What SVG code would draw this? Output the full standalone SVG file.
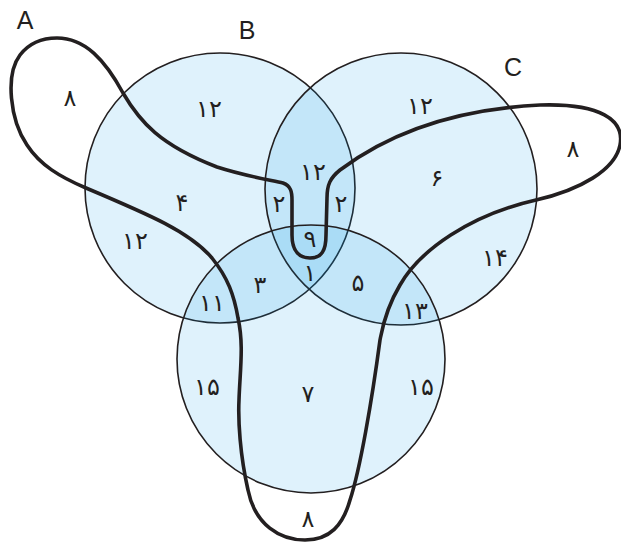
<svg xmlns="http://www.w3.org/2000/svg" width="621" height="544" viewBox="0 0 621 544">
<style>
.set{fill:rgb(0,148,230);fill-opacity:0.125;stroke:#231f20;stroke-width:1.6}
.curve{fill:none;stroke:#231f20;stroke-width:3.6;stroke-linejoin:round}
.num{font-family:"DejaVu Sans","Noto Sans",sans-serif;font-size:24px;fill:#231f20;text-anchor:middle}
.lbl{font-family:"Liberation Sans","Open Sans",sans-serif;font-size:25px;fill:#231f20;text-anchor:middle}
</style>
<rect width="621" height="544" fill="#ffffff"/>
<g id="B"><circle class="set" cx="220" cy="188" r="135"/><text class="lbl" x="247" y="39">B</text></g>
<g id="C"><circle class="set" cx="401" cy="189" r="136"/><text class="lbl" x="513" y="76">C</text></g>
<g id="D"><circle class="set" cx="311" cy="359" r="134"/></g>
<g id="connectors">
<path id="A-curve" class="curve" d="M57,38 C85,38 105,60 123,93 C140,122 160,145 217,167 C245,176 270,180 283,183 C291,186 292,192 292,200 L292,235 C292,252 300,258 310,258 C322,258 326,250 326,235 L327,198 C327,185 330,178 340,170 C380,140 440,110 540,105 C600,103 625,120 620,145 C615,170 580,190 536,200 C470,215 420,250 400,285 C385,310 382,330 380,340 C372,400 360,470 350,500 C343,525 330,540 305,540 C280,540 255,525 248,490 C240,455 238,420 239,400 C240,370 244,345 238,318 C234,295 228,278 212,258 C190,232 150,215 86,188 C60,177 40,165 27,145 C10,120 5,75 20,55 C30,42 45,38 57,38 Z"/>
</g>
<g id="A"><text class="lbl" x="25" y="29">A</text></g>
<g id="numbers">
<text class="num" x="70" y="106">۸</text>
<text class="num" x="209" y="117">۱۲</text>
<text class="num" x="182" y="211">۴</text>
<text class="num" x="135" y="249">۱۲</text>
<text class="num" x="279" y="212">۲</text>
<text class="num" x="313" y="180">۱۲</text>
<text class="num" x="341" y="212">۲</text>
<text class="num" x="310" y="247">۹</text>
<text class="num" x="310" y="281">۱</text>
<text class="num" x="260" y="293">۳</text>
<text class="num" x="358" y="291">۵</text>
<text class="num" x="212" y="311">۱۱</text>
<text class="num" x="415" y="319">۱۳</text>
<text class="num" x="207" y="395">۱۵</text>
<text class="num" x="308" y="402">۷</text>
<text class="num" x="421" y="395">۱۵</text>
<text class="num" x="308" y="527">۸</text>
<text class="num" x="420" y="114">۱۲</text>
<text class="num" x="437" y="186">۶</text>
<text class="num" x="573" y="157">۸</text>
<text class="num" x="495" y="266">۱۴</text>
</g>
</svg>
